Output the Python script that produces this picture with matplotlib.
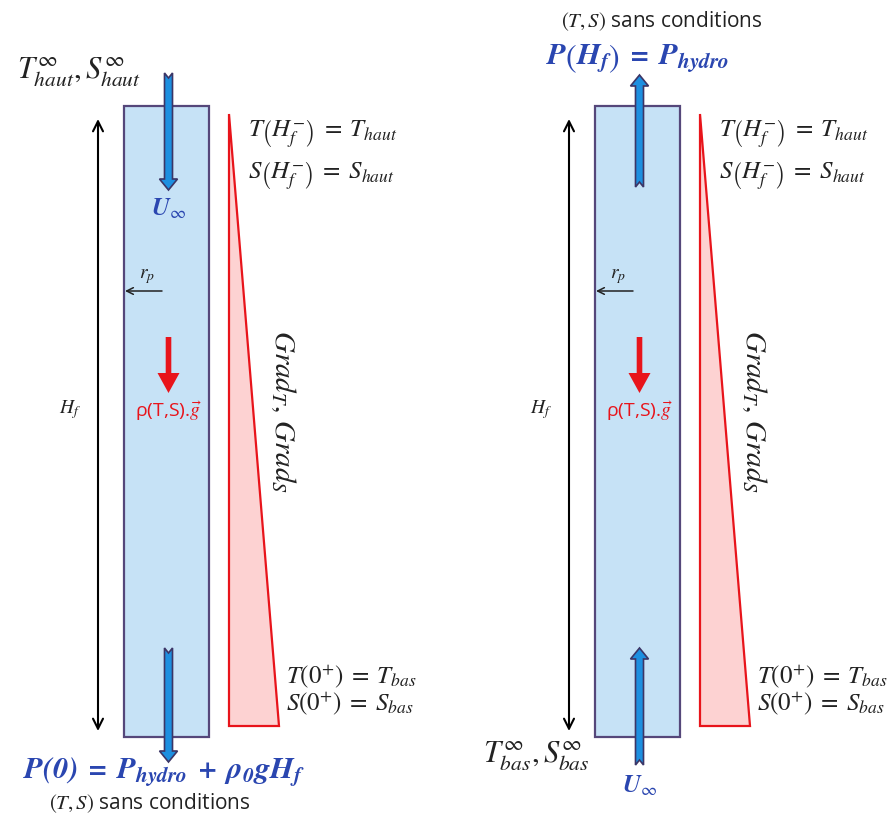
import matplotlib
matplotlib.use("Agg")
import matplotlib.pyplot as plt
from matplotlib.patches import Polygon, Rectangle

plt.rcParams["mathtext.fontset"] = "custom"
plt.rcParams["mathtext.rm"] = "STIXGeneral"
plt.rcParams["mathtext.it"] = "STIXGeneral:italic"
plt.rcParams["mathtext.bf"] = "STIXGeneral:italic:bold"

# layout of the two panels (pixel coordinates, y downwards)
PANEL_SHIFT = [0, 471]
TUBE = [124, 106, 85, 631]          # x, y top, width, height
TRIANGLE = [(229, 114), (229, 726), (279, 726)]
BLUE = "#2a46b0"
RED = "#e8141b"
INK = "#222222"
SANS = ["Open Sans", "DejaVu Sans"]

# labels
TOP_BC = [r"$T\left(H_f^{-}\right)\;=\;T_{haut}$", r"$S\left(H_f^{-}\right)\;=\;S_{haut}$"]
BOT_BC = [r"$T(0^{+})\;=\;T_{bas}$", r"$S(0^{+})\;=\;S_{bas}$"]
GRAD = r"$Grad_T,\,Grad_S$"
BODY = r"ρ(T,S).$\vec{g}$"
P_BOTTOM = r"$\mathbf{P(0)\;=\;P_{hydro}\;+\;\rho_0 g H_f}$"
P_TOP = r"$\mathbf{P\left(H_f\right)\;=\;P_{hydro}}$"
FREE = r"$(T,S)$ sans conditions"
INLET_HAUT = r"$T_{haut}^{\infty},S_{haut}^{\infty}$"
INLET_BAS = r"$T_{bas}^{\infty},S_{bas}^{\infty}$"
U_INF = r"$\mathbf{U}_{\infty}$"


def flow_arrow(ax, x, y0, y1, w=4, hw=9, hl=11, notch=5, fc="#1d8fe0"):
    s = 1 if y1 > y0 else -1
    pts = [(x - w, y0), (x, y0 + s * notch), (x + w, y0),
           (x + w, y1 - s * hl), (x + hw, y1 - s * hl), (x, y1),
           (x - hw, y1 - s * hl), (x - w, y1 - s * hl)]
    ax.add_patch(Polygon(pts, closed=True, fc=fc, ec="#3b3566", lw=1.2, zorder=5))


def gravity_arrow(ax, x, y0, y1):
    w, hw, hl = 2.8, 11, 20
    pts = [(x - w, y0), (x + w, y0), (x + w, y1 - hl), (x + hw, y1 - hl),
           (x, y1), (x - hw, y1 - hl), (x - w, y1 - hl)]
    ax.add_patch(Polygon(pts, closed=True, fc=RED, ec="none", zorder=5))


fig = plt.figure(figsize=(8.95, 8.16), dpi=100)
ax = fig.add_axes([0, 0, 1, 1])
ax.set_xlim(0, 895)
ax.set_ylim(816, 0)
ax.axis("off")

for i, dx in enumerate(PANEL_SHIFT):
    tx, ty, tw, th = TUBE
    ax.add_patch(Rectangle((tx + dx, ty), tw, th, fc="#c6e2f6", ec="#55477a", lw=1.6, zorder=2))
    ax.add_patch(Polygon([(px + dx, py) for px, py in TRIANGLE], closed=True,
                         fc="#fdd2d2", ec=RED, lw=1.6, zorder=2))
    cx = tx + dx + tw / 2 + 2

    # H_f height arrow
    ax.annotate("", xy=(98 + dx, 119), xytext=(98 + dx, 731),
                arrowprops=dict(arrowstyle="<->", lw=1.5, color="black",
                                mutation_scale=18, shrinkA=0, shrinkB=0))
    ax.text(70 + dx, 410, r"$H_f$", fontsize=14, ha="center", va="center", color=INK)

    # r_p arrow
    ax.annotate("", xy=(tx + dx + 1, 291), xytext=(162 + dx, 291),
                arrowprops=dict(arrowstyle="->", lw=1.1, color=INK,
                                mutation_scale=12, shrinkA=0, shrinkB=0))
    ax.text(147 + dx, 277, r"$r_p$", fontsize=14, ha="center", va="center", color=INK)

    # gravity
    gravity_arrow(ax, cx, 337, 393)
    ax.text(cx, 411, BODY, fontsize=14, color=RED, ha="center", va="center", family=SANS)

    # boundary conditions
    for k, s in enumerate(TOP_BC):
        ax.text(248 + dx, 134 + 42 * k, s, fontsize=18, ha="left", va="center", color=INK)
    for k, s in enumerate(BOT_BC):
        ax.text(286 + dx, 676 + 27 * k, s, fontsize=18, ha="left", va="center", color=INK)
    ax.text(283 + dx, 411, GRAD, fontsize=21, rotation=-90, ha="center", va="center", color=INK)

    if i == 0:
        flow_arrow(ax, cx, 73, 190)
        flow_arrow(ax, cx, 648, 762)
        ax.text(cx, 209, U_INF, fontsize=18, color=BLUE, ha="center", va="center")
        ax.text(79, 72, INLET_HAUT, fontsize=22, ha="center", va="center", color=INK)
        ax.text(164, 772, P_BOTTOM, fontsize=22, color=BLUE, ha="center", va="center")
        ax.text(150, 803, FREE, fontsize=15, ha="center", va="center", family=SANS, color=INK)
    else:
        flow_arrow(ax, cx, 187, 75)
        flow_arrow(ax, cx, 765, 648)
        ax.text(cx, 786, U_INF, fontsize=18, color=BLUE, ha="center", va="center")
        ax.text(536, 756, INLET_BAS, fontsize=22, ha="center", va="center", color=INK)
        ax.text(637, 59, P_TOP, fontsize=22, color=BLUE, ha="center", va="center")
        ax.text(662, 21, FREE, fontsize=15, ha="center", va="center", family=SANS, color=INK)

fig.savefig("out.png", dpi=100)
